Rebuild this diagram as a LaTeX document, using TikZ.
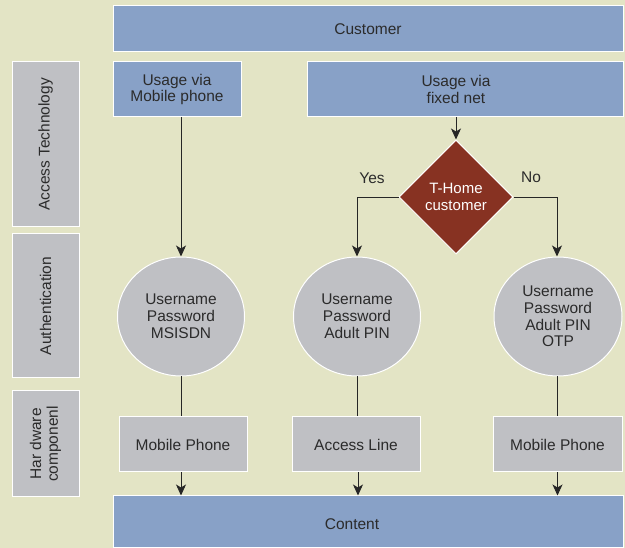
\documentclass[tikz,border=0pt]{standalone}
\usepackage{fontspec}
\setmainfont{Liberation Sans}
\usetikzlibrary{shapes.geometric,arrows.meta}
\definecolor{bgc}{HTML}{E3E4C5}
\definecolor{bluec}{HTML}{88A1C7}
\definecolor{grayc}{HTML}{BFC0C4}
\definecolor{redc}{HTML}{873222}
\definecolor{txtc}{HTML}{2B2B2B}
\begin{document}
\begin{tikzpicture}[x=1pt,y=-1pt,
  every node/.style={font=\fontsize{15.5}{16.8}\selectfont, text=txtc, align=center, inner sep=0pt},
  box/.style={draw=white, line width=1pt, rectangle, minimum width=#1},
  bluebox/.style={box=#1, fill=bluec},
  graybox/.style={box=#1, fill=grayc},
  authc/.style={ellipse, draw=white, line width=1pt, fill=grayc, minimum width=127pt, minimum height=119pt},
  conn/.style={draw=black!85, line width=0.9pt},
  arr/.style={conn, -{Stealth[length=11pt,width=10pt,inset=3pt]}}
]
\fill[bgc] (0,0) rectangle (625,548);
\useasboundingbox (0,0) rectangle (625,548);

% top row
\node[bluebox=510pt, minimum height=46pt] (cust) at (368,29) {Customer};
\node[bluebox=128pt, minimum height=55pt] (mu) at (177,89.5) {Usage via\\Mobile phone};
\node[bluebox=316pt, minimum height=55pt, label={[xshift=-9pt]center:{Usage via\\fixed net}}] (fu) at (465,89.5) {};

% side labels
\node[graybox=67pt, minimum height=165pt] (sa) at (45.5,144.5) {};
\node[rotate=90] (sat) at (sa.center) {Access Technology};
\node[graybox=67pt, minimum height=144pt] (sb) at (45.5,306) {};
\node[rotate=90] (sbt) at (sb.center) {Authentication};
\node[graybox=67pt, minimum height=106pt] (sc) at (45.5,444) {};
\node[rotate=90] (sct) at (sc.center) {Har dware\\componenl};

% decision
\node[diamond, aspect=1, draw=white, line width=1pt, fill=redc, minimum width=114pt, minimum height=114pt, text=white, font=\fontsize{15}{16.5}\selectfont] (dec) at (456,197) {T-Home\\customer};
\node (yes) at (372,178) {Yes};
\node (no) at (531,177) {No};

% authentication circles
\node[authc] (c1) at (181,316.5) {Username\\Password\\MSISDN};
\node[authc] (c2) at (357,316.5) {Username\\Password\\Adult PIN};
\node[authc, minimum width=128pt] (c3) at (558,316.5) {Username\\Password\\Adult PIN\\OTP};

% hardware boxes
\node[graybox=128pt, minimum height=55pt] (h1) at (183,444.5) {Mobile Phone};
\node[graybox=128pt, minimum height=55pt] (h2) at (356,444.5) {Access Line};
\node[graybox=129pt, minimum height=55pt] (h3) at (557.5,444.5) {Mobile Phone};

% content
\node[bluebox=510pt, minimum height=52pt, label={[xshift=-16pt,yshift=-2pt]center:Content}] (cont) at (368,522) {};

% connectors
\draw[arr] (c1.north |- mu.south) -- (c1.north);
\draw[arr] (dec.north |- fu.south) -- (dec.north);
\draw[arr] (dec.west) -| (c2.north);
\draw[arr] (dec.east) -| ([xshift=-1pt]c3.north);
\draw[conn] (c1.south) -- (c1.south |- h1.north);
\draw[conn] (c2.south) -- (c2.south |- h2.north);
\draw[conn] ([xshift=-1pt]c3.south) -- ([xshift=-1pt]c3.south |- h3.north);
\draw[arr] ([xshift=-2pt]h1.south) -- ([xshift=-2pt]h1.south |- cont.north);
\draw[arr] ([xshift=2pt]h2.south) -- ([xshift=2pt]h2.south |- cont.north);
\draw[arr] (h3.south) -- (h3.south |- cont.north);
\end{tikzpicture}
\end{document}
